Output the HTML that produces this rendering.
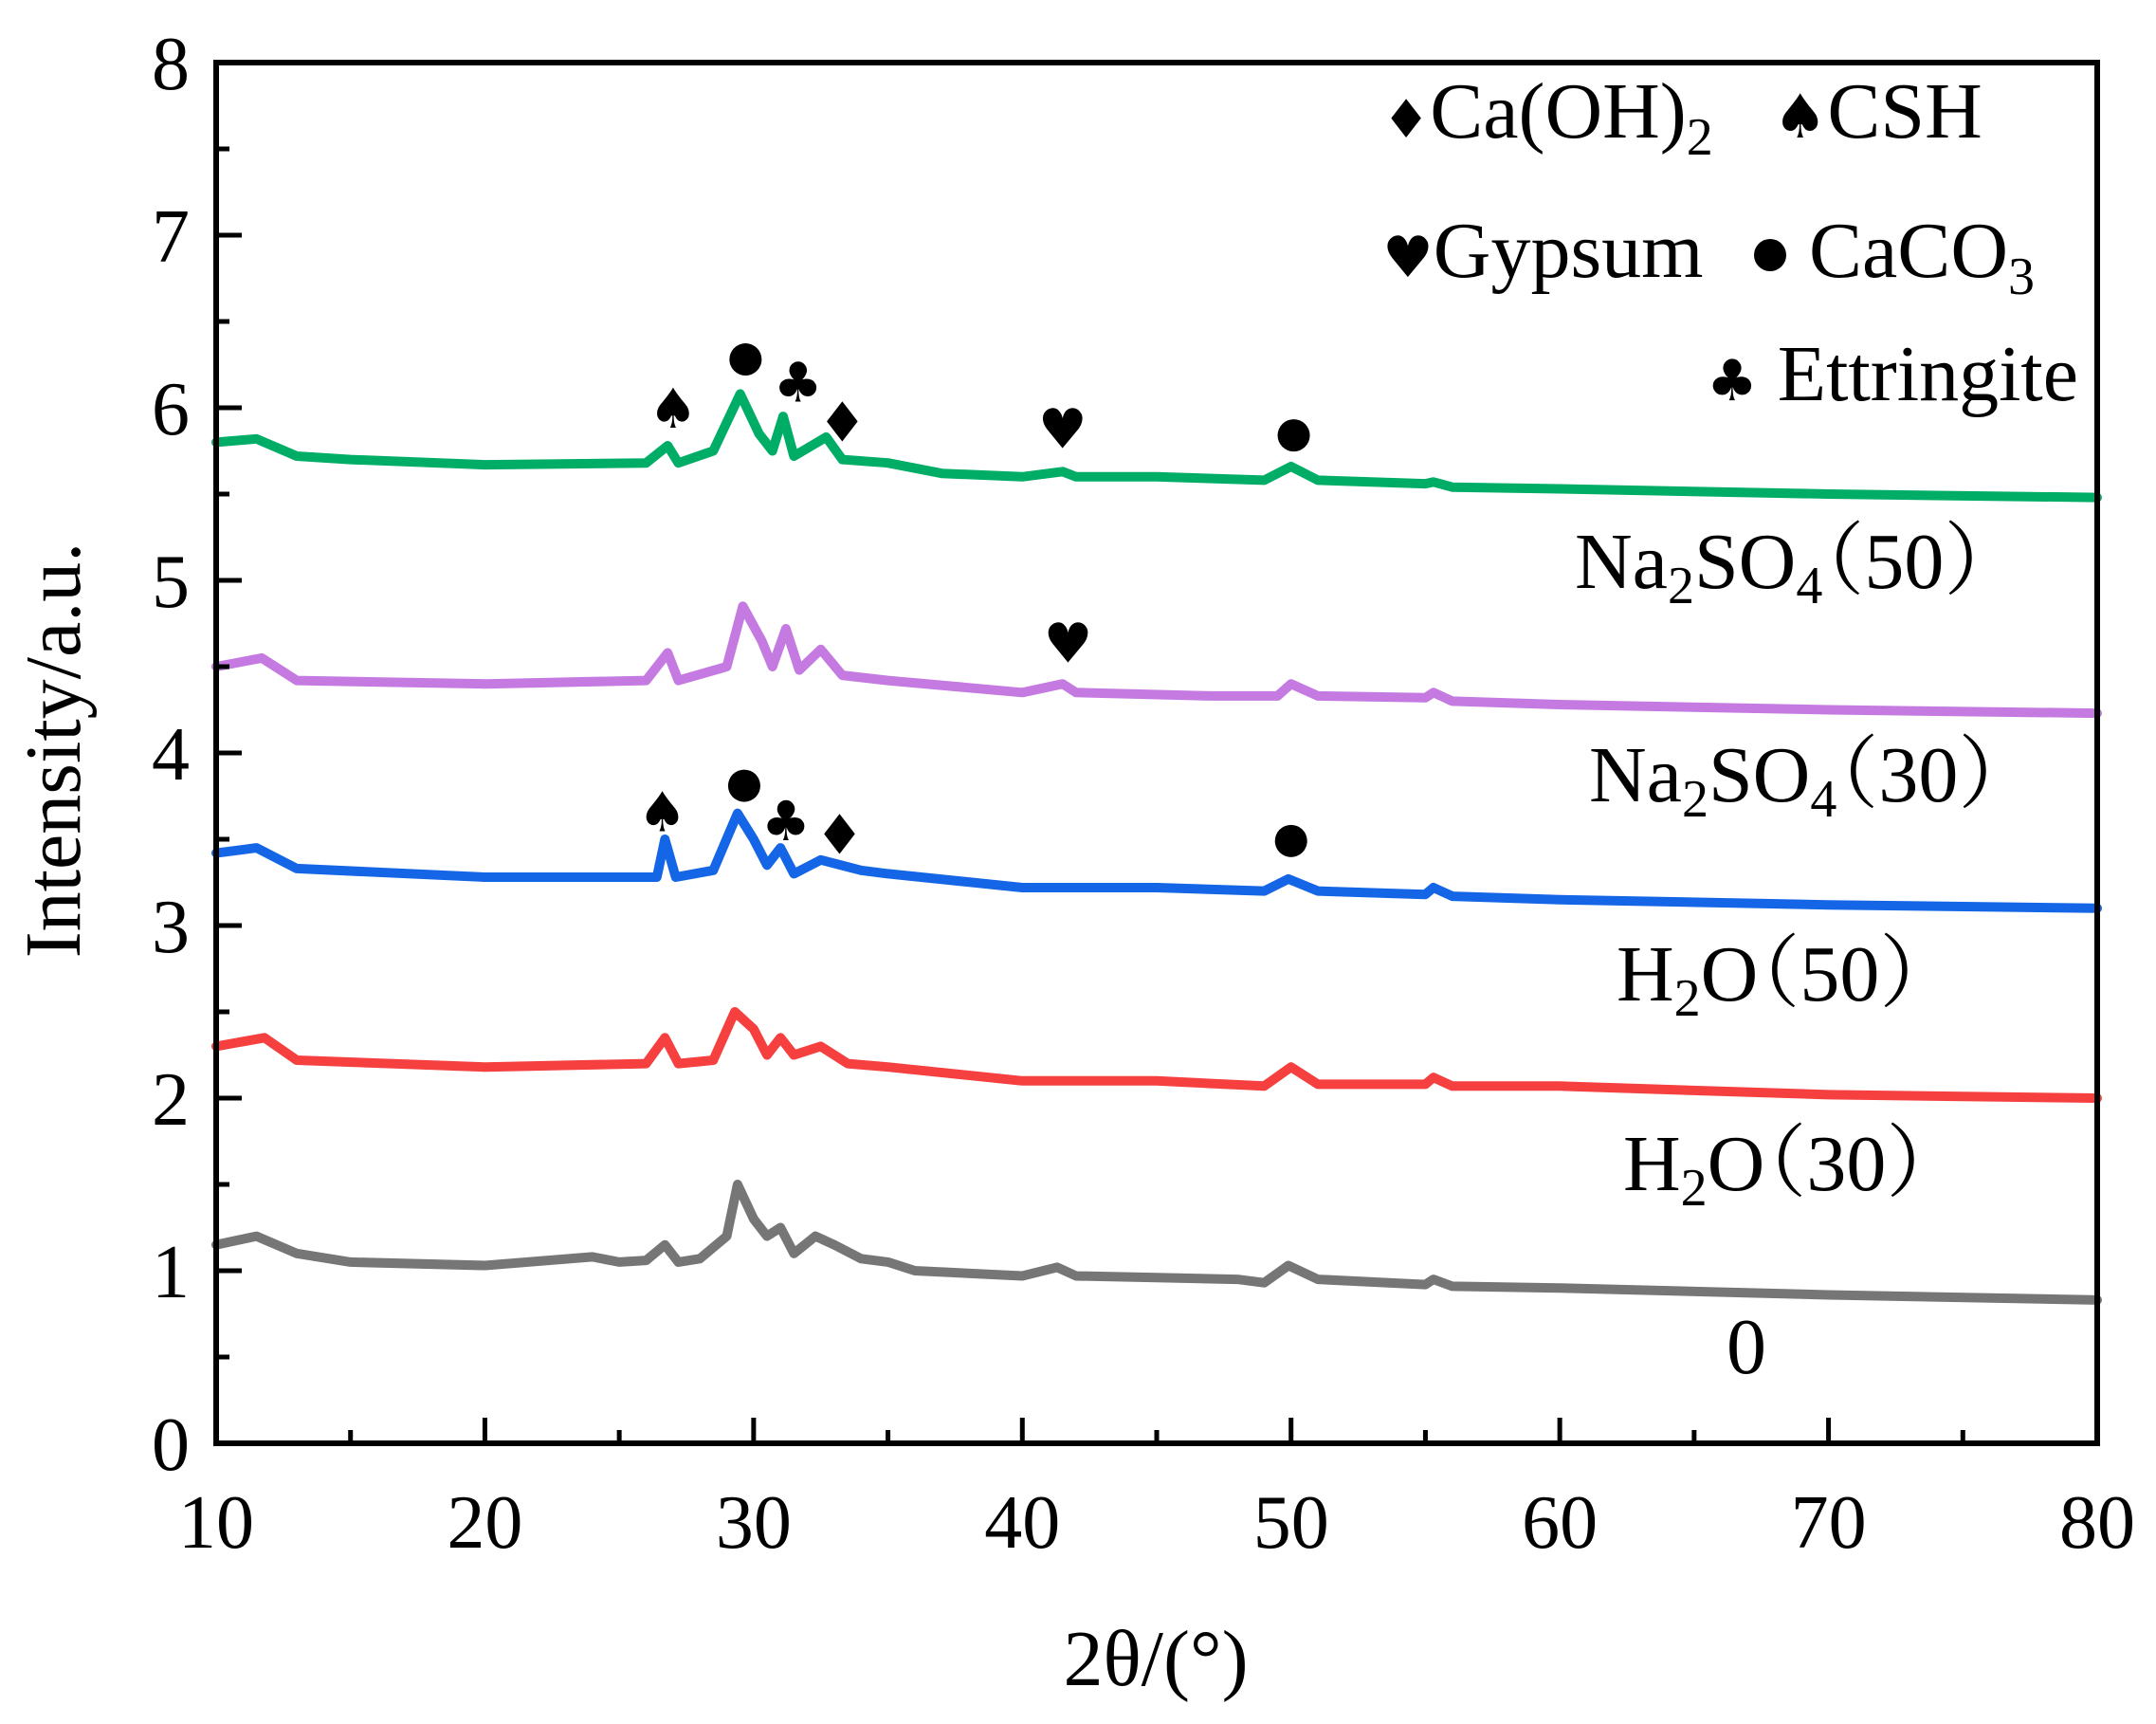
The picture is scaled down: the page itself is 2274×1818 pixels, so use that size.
<!DOCTYPE html>
<html><head><meta charset="utf-8"><style>
html,body{margin:0;padding:0;background:#fff;}
svg{display:block;font-family:"Liberation Serif","Noto Serif CJK SC",serif;}
</style></head><body>
<svg id="chart" width="2274" height="1818" viewBox="0 0 2274 1818" xmlns="http://www.w3.org/2000/svg">
<g id="series"></g>
<g id="markers"></g>
<g id="axes"></g>
<g id="labels"></g>
</svg>
<script>
const xTicks=[10,20,30,40,50,60,70,80];
const yTicks=[0,1,2,3,4,5,6,7,8];
const xGray=[10,11.5,13,15,20,24,25,26,26.7,27.2,28,29,29.4,30,30.5,31,31.5,32.3,33,34,35,36,40,41.3,42,45,48,49,49.9,51,55,55.3,56,60,70,80];
const yGray=[1.15,1.2,1.1,1.05,1.03,1.08,1.05,1.06,1.15,1.05,1.07,1.2,1.5,1.3,1.2,1.25,1.1,1.2,1.15,1.07,1.05,1.0,0.97,1.02,0.97,0.96,0.95,0.93,1.03,0.95,0.92,0.95,0.91,0.9,0.86,0.83];
const xRed=[10,11.8,13,20,26,26.7,27.2,28.5,29.3,30,30.5,31,31.5,32.5,33.5,35,40,45,49,50,51,55,55.3,56,60,70,80];
const yRed=[2.3,2.35,2.22,2.18,2.2,2.35,2.2,2.22,2.5,2.4,2.25,2.35,2.25,2.3,2.2,2.18,2.1,2.1,2.07,2.18,2.08,2.08,2.12,2.07,2.07,2.02,2.0];
const xBlue=[10,11.5,13,20,26.4,26.7,27.1,28.5,29.4,30,30.5,31,31.5,32.5,34,35,40,45,49,49.9,51,55,55.3,56,60,70,80];
const yBlue=[3.42,3.45,3.33,3.28,3.28,3.5,3.28,3.32,3.65,3.5,3.35,3.45,3.3,3.38,3.32,3.3,3.22,3.22,3.2,3.27,3.2,3.18,3.22,3.17,3.15,3.12,3.1];
const xPurple=[10,11.7,13,20,26,26.8,27.2,29,29.6,30.3,30.7,31.2,31.7,32.5,33.3,35,40,41.5,42,47,49.5,50,51,55,55.3,56,60,70,80];
const yPurple=[4.5,4.55,4.42,4.4,4.42,4.58,4.42,4.5,4.85,4.65,4.5,4.72,4.48,4.6,4.45,4.42,4.35,4.4,4.35,4.33,4.33,4.4,4.33,4.32,4.35,4.3,4.28,4.25,4.23];
const xGreen=[10,11.5,13,15,20,26,26.8,27.2,28.5,29.5,30.2,30.7,31.1,31.5,32.7,33.3,35,37,40,41.5,42,45,49,50,51,55,55.3,56,60,70,80];
const yGreen=[5.8,5.82,5.72,5.7,5.67,5.68,5.78,5.68,5.75,6.08,5.85,5.75,5.95,5.72,5.83,5.7,5.68,5.62,5.6,5.63,5.6,5.6,5.58,5.66,5.58,5.56,5.57,5.54,5.53,5.5,5.48];
const seriesNames=['sample-0','h2o-30','h2o-50','na2so4-30','na2so4-50'];
const seriesColors=['#767676','#f5403f','#1466e6','#c47ae0','#00ad66'];
const markX=[27.0,29.7,31.65,33.3,41.5,50.1,41.7,26.6,29.65,31.2,33.2,50.0];
const markY=[5.99,6.28,6.14,5.91,5.87,5.84,4.63,3.65,3.81,3.6,3.52,3.49];
const markType=['spade','circle','club','diamond','heart','circle','heart','spade','circle','club','diamond','circle'];

const X0=228,X1=2212,Y0=1522,Y1=66;
const sx=v=>X0+(v-10)/(80-10)*(X1-X0);
const sy=v=>Y0-(v-0)/(8-0)*(Y0-Y1);
const NS='http://www.w3.org/2000/svg';
function mk(tag,attrs,parent){const e=document.createElementNS(NS,tag);for(const k in attrs)e.setAttribute(k,attrs[k]);parent.appendChild(e);return e;}
const gS=document.getElementById('series'),gM=document.getElementById('markers'),gA=document.getElementById('axes'),gL=document.getElementById('labels');
const allX=[xGray,xRed,xBlue,xPurple,xGreen],allY=[yGray,yRed,yBlue,yPurple,yGreen];
allX.forEach((xs,i)=>{
  const d=xs.map((x,j)=>(j?'L':'M')+sx(x).toFixed(1)+' '+sy(allY[i][j]).toFixed(1)).join(' ');
  const p=mk('path',{d:d,fill:'none',stroke:seriesColors[i],'stroke-width':10,'stroke-linejoin':'round','stroke-linecap':'round'},gS);
  
  
});
const glyph={spade:'♠',club:'♣',heart:'♥',diamond:'♦'};
markX.forEach((x,i)=>{
  let e;
  if(markType[i]==='circle'){e=mk('circle',{cx:sx(x),cy:sy(markY[i]),r:17,fill:'#000'},gM);}
  else{e=mk('text',{x:sx(x),y:sy(markY[i])+19,'text-anchor':'middle','font-size':58,'font-family':'DejaVu Sans, sans-serif',fill:'#000'},gM);e.textContent=glyph[markType[i]];}
  
  
});
const fr=mk('rect',{x:X0,y:Y1,width:X1-X0,height:Y0-Y1,fill:'none',stroke:'#000','stroke-width':6},gA);


xTicks.forEach((t,i)=>{
  const tk=mk('line',{x1:sx(t),x2:sx(t),y1:Y0,y2:Y0-27,stroke:'#000','stroke-width':5},gA);
  
  
  if(i<xTicks.length-1){const m=mk('line',{x1:sx(t+5),x2:sx(t+5),y1:Y0,y2:Y0-14,stroke:'#000','stroke-width':5},gA);
  
  }
  const lb=mk('text',{x:sx(t),y:1632,'text-anchor':'middle','font-size':80},gL);lb.textContent=t;
  
  
});
yTicks.forEach((t,i)=>{
  const tk=mk('line',{x1:X0,x2:X0+27,y1:sy(t),y2:sy(t),stroke:'#000','stroke-width':5},gA);
  
  
  if(i<yTicks.length-1){const m=mk('line',{x1:X0,x2:X0+14,y1:sy(t+0.5),y2:sy(t+0.5),stroke:'#000','stroke-width':5},gA);
  
  }
  const lb=mk('text',{x:200,y:sy(t)+28,'text-anchor':'end','font-size':80},gL);lb.textContent=t;
  
  
});
</script>
<svg style="position:absolute;left:0;top:0" width="2274" height="1818" xmlns="http://www.w3.org/2000/svg">
<g font-family="Liberation Serif, Noto Serif CJK SC, serif" font-size="84" fill="#000">
<text x="1219" y="1777" text-anchor="middle">2θ/(°)</text>
<text transform="translate(84,791) rotate(-90)" text-anchor="middle">Intensity/a.u.</text>
<text x="1458" y="145"><tspan font-family="DejaVu Sans, sans-serif" font-size="56">♦</tspan>Ca(OH)<tspan font-size="56" dy="18">2</tspan></text>
<text x="1870" y="145"><tspan font-family="DejaVu Sans, sans-serif" font-size="64">♠</tspan>CSH</text>
<text x="1458" y="292"><tspan font-family="DejaVu Sans, sans-serif" font-size="60">♥</tspan>Gypsum</text>
<circle cx="1867" cy="269" r="17" fill="#000"/>
<text x="1908" y="292">CaCO<tspan font-size="56" dy="18">3</tspan></text>
<text x="1800" y="422"><tspan font-family="DejaVu Sans, sans-serif" font-size="60">♣</tspan> Ettringite</text>
<text x="1661" y="620">Na<tspan font-size="56" dy="16">2</tspan><tspan dy="-16">SO</tspan><tspan font-size="56" dy="16">4</tspan><tspan dy="-16" dx="-40">（50）</tspan></text>
<text x="1676" y="845">Na<tspan font-size="56" dy="16">2</tspan><tspan dy="-16">SO</tspan><tspan font-size="56" dy="16">4</tspan><tspan dy="-16" dx="-40">（30）</tspan></text>
<text x="1705" y="1055">H<tspan font-size="56" dy="16">2</tspan><tspan dy="-16">O</tspan><tspan dx="-40">（50）</tspan></text>
<text x="1712" y="1255">H<tspan font-size="56" dy="16">2</tspan><tspan dy="-16">O</tspan><tspan dx="-40">（30）</tspan></text>
<text x="1842" y="1448" text-anchor="middle">0</text>
</g>
</svg>
</body></html>
